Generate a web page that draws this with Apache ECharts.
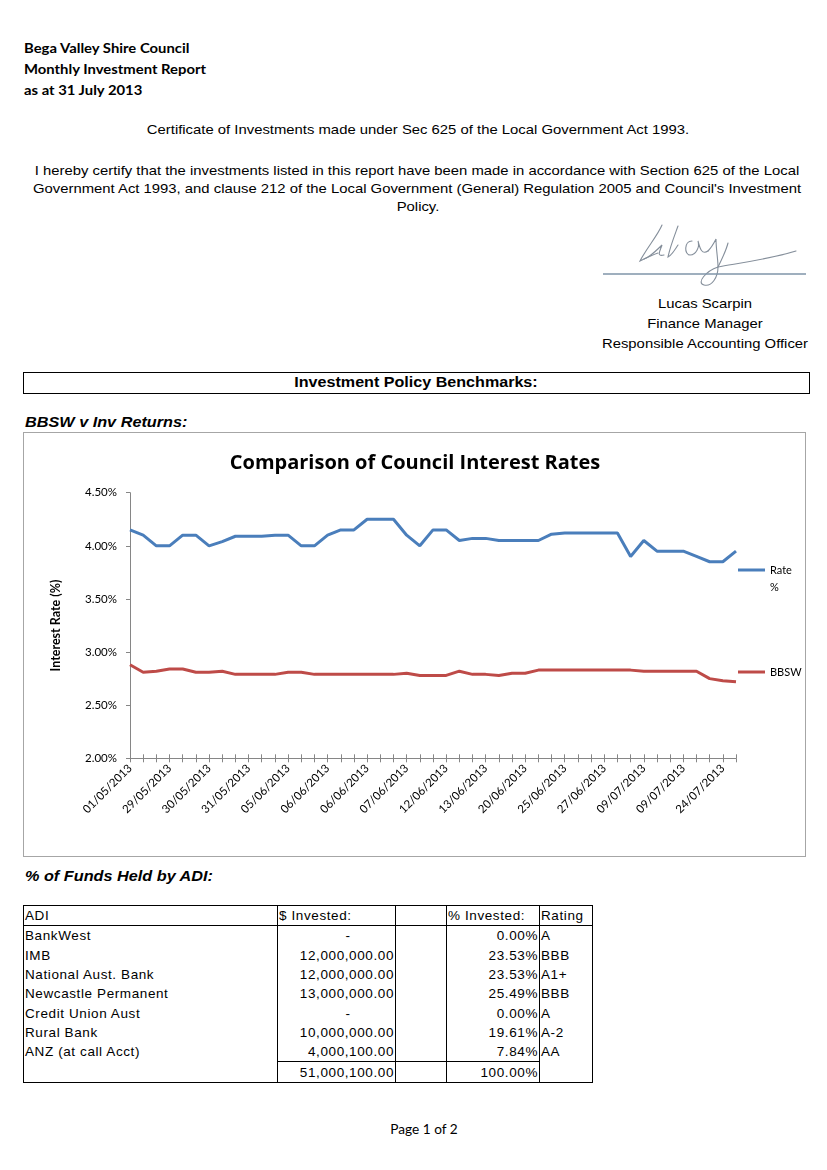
<!DOCTYPE html>
<html>
<head>
<meta charset="utf-8">
<script src="https://cdn.jsdelivr.net/npm/echarts@6/dist/echarts.min.js"></script>
<style>
  html, body { margin: 0; padding: 0; background: #fff; }
  body { width: 827px; height: 1170px; position: relative; overflow: hidden; font-family: "Liberation Sans", Arial, sans-serif; color: #000; }
  .abs { position: absolute; white-space: nowrap; }
  .cal { font-family: Lato, "Open Sans", sans-serif; }
  .hdr { font-weight: bold; font-size: 14px; left: 24px; transform: translateY(-50%) scaleX(1.06); transform-origin: left center; }
  .ctr { transform: translate(-50%, -50%) scaleX(1.1); font-size: 13.5px; }
  .sub { font-weight: bold; font-style: italic; font-size: 14px; left: 25px; transform: translateY(-50%) scaleX(1.16); transform-origin: left center; }
  #chart { position: absolute; left: 23px; top: 432px; width: 784px; height: 426px; }
  #frame { position: absolute; left: 23px; top: 432px; width: 781px; height: 423px; border: 1.5px solid #a6a6a6; pointer-events: none; }
  #box { position: absolute; left: 23px; top: 372px; width: 785px; height: 20px; border: 1.5px solid #000; }
  table { position: absolute; left: 23px; top: 905px; border-collapse: collapse; font-size: 13.5px; letter-spacing: 0.6px; font-family: "Liberation Sans", Arial, sans-serif; border: 1.5px solid #000; }
  td { padding: 0 1px; height: 19.3px; line-height: 19px; border-left: 1px solid #000; border-right: 1px solid #000; white-space: nowrap; }
  tr.head td { border-bottom: 1px solid #000; }
  tr.total td.top { border-top: 1px solid #000; }
  td.r { text-align: right; }
</style>
</head>
<body>
<div class="abs cal hdr" style="top:47px">Bega Valley Shire Council</div>
<div class="abs cal hdr" style="top:68px">Monthly Investment Report</div>
<div class="abs cal hdr" style="top:89px">as at 31 July 2013</div>

<div class="abs ctr" style="left:418px; top:129px">Certificate of Investments made under Sec 625 of the Local Government Act 1993.</div>
<div class="abs ctr" style="left:417px; top:170px">I hereby certify that the investments listed in this report have been made in accordance with Section 625 of the Local</div>
<div class="abs ctr" style="left:417px; top:188px">Government Act 1993, and clause 212 of the Local Government (General) Regulation 2005 and Council's Investment</div>
<div class="abs ctr" style="left:418px; top:206px">Policy.</div>

<svg class="abs" style="left:600px; top:215px" width="215" height="90">
  <g fill="none" stroke="#858f9b" stroke-width="1.1" stroke-linecap="round">
    <path d="M62 10 C58 20 46 34 40 46 C44 44 52 40 58 38"/>
    <path d="M44 44 C50 42 56 36 62 30 C60 36 56 42 64 40"/>
    <path d="M78 11 C74 22 70 32 68 42 C72 40 74 36 78 30"/>
    <path d="M92 26 C84 26 84 40 90 40 C96 40 100 32 98 26 C100 34 102 40 108 36"/>
    <path d="M108 36 C112 32 114 28 116 24 C116 34 118 44 118 52 C118 62 112 72 104 70 C96 68 106 56 118 52 C140 48 170 44 196 36"/>
    <path d="M128 28 C126 36 122 44 118 52"/>
  </g>
  <line x1="3" y1="59" x2="206" y2="59" stroke="#7f95a8" stroke-width="1.5"/>
</svg>

<div class="abs ctr" style="left:705px; top:303px">Lucas Scarpin</div>
<div class="abs ctr" style="left:705px; top:323px">Finance Manager</div>
<div class="abs ctr" style="left:705px; top:343px">Responsible Accounting Officer</div>

<div id="box"></div>
<div class="abs" style="left:416px; top:382px; font-weight:bold; font-size:14px; transform: translate(-50%, -50%) scaleX(1.15);">Investment Policy Benchmarks:</div>

<div class="abs sub" style="top:422px">BBSW v Inv Returns:</div>

<div id="chart"></div>
<div id="frame"></div>

<div class="abs sub" style="top:876px">% of Funds Held by ADI:</div>

<table id="tbl"></table>

<div class="abs cal" style="left:424px; top:1129px; font-size:13px; transform: translate(-50%, -50%) scaleX(1.05);">Page 1 of 2</div>

<script>
// ---- chart data ----
var dates = [
  "01/05/2013","06/05/2013","20/05/2013","29/05/2013","29/05/2013","30/05/2013","30/05/2013","30/05/2013",
  "31/05/2013","31/05/2013","03/06/2013","04/06/2013","05/06/2013","05/06/2013","06/06/2013","06/06/2013",
  "06/06/2013","06/06/2013","06/06/2013","07/06/2013","07/06/2013","07/06/2013","11/06/2013","12/06/2013",
  "12/06/2013","12/06/2013","13/06/2013","13/06/2013","17/06/2013","19/06/2013","20/06/2013","21/06/2013",
  "24/06/2013","25/06/2013","26/06/2013","27/06/2013","27/06/2013","02/07/2013","05/07/2013","09/07/2013",
  "09/07/2013","09/07/2013","09/07/2013","15/07/2013","19/07/2013","24/07/2013","31/07/2013"
];
var rateValues = [
  4.15, 4.10, 4.00, 4.00, 4.10, 4.10, 4.00, 4.04, 4.09, 4.09, 4.09, 4.10, 4.10, 4.00, 4.00, 4.10,
  4.15, 4.15, 4.25, 4.25, 4.25, 4.10, 4.00, 4.15, 4.15, 4.05, 4.07, 4.07, 4.05, 4.05, 4.05, 4.05,
  4.11, 4.12, 4.12, 4.12, 4.12, 4.12, 3.90, 4.05, 3.95, 3.95, 3.95, 3.90, 3.85, 3.85, 3.95
];
var bbswValues = [
  2.88, 2.81, 2.82, 2.84, 2.84, 2.81, 2.81, 2.82, 2.79, 2.79, 2.79, 2.79, 2.81, 2.81, 2.79, 2.79,
  2.79, 2.79, 2.79, 2.79, 2.79, 2.80, 2.78, 2.78, 2.78, 2.82, 2.79, 2.79, 2.78, 2.80, 2.80, 2.83,
  2.83, 2.83, 2.83, 2.83, 2.83, 2.83, 2.83, 2.82, 2.82, 2.82, 2.82, 2.82, 2.75, 2.73, 2.72
];
var seriesNames = ["Rate %", "BBSW"];
var yTicks = [2.0, 2.5, 3.0, 3.5, 4.0, 4.5];

// ---- table data ----
var adiNames = ["BankWest","IMB","National Aust. Bank","Newcastle Permanent","Credit Union Aust","Rural Bank","ANZ (at call Acct)"];
var adiInvested = ["-","12,000,000.00","12,000,000.00","13,000,000.00","-","10,000,000.00","4,000,100.00"];
var adiPercent = ["0.00%","23.53%","23.53%","25.49%","0.00%","19.61%","7.84%"];
var adiRating = ["A","BBB","A1+","BBB","A","A-2","AA"];
var totalInvested = "51,000,100.00";
var totalPercent = "100.00%";

// build table
(function(){
  var w = [254, 118, 51, 93, 53];
  var h = '<colgroup>' + w.map(function(x){return '<col style="width:'+x+'px">';}).join('') + '</colgroup>';
  h += '<tr class="head"><td>ADI</td><td>$ Invested:</td><td></td><td>% Invested:</td><td>Rating</td></tr>';
  for (var i = 0; i < adiNames.length; i++) {
    var inv = adiInvested[i] === '-' ? '-&nbsp;&nbsp;&nbsp;&nbsp;&nbsp;&nbsp;&nbsp;&nbsp;&nbsp;&nbsp;' : adiInvested[i];
    h += '<tr><td>' + adiNames[i] + '</td><td class="r">' + inv + '</td><td></td><td class="r">' + adiPercent[i] + '</td><td>' + adiRating[i] + '</td></tr>';
  }
  h += '<tr class="total"><td></td><td class="r top">' + totalInvested + '</td><td class="top"></td><td class="r top">' + totalPercent + '</td><td></td></tr>';
  document.getElementById('tbl').innerHTML = h;
})();

var chart = echarts.init(document.getElementById('chart'), null, { renderer: 'canvas' });
var FONT = 'Lato, "Open Sans", sans-serif';
var axisGray = '#868686';
var xBase = {
  type: 'category',
  data: dates,
  boundaryGap: false,
  position: 'bottom'
};
chart.setOption({
  animation: false,
  backgroundColor: '#fff',
  textStyle: { fontFamily: FONT },
  title: {
    text: 'Comparison of Council Interest Rates',
    left: 'center',
    top: 16,
    textStyle: { fontSize: 20, fontWeight: 'bold', color: '#000', fontFamily: '"Open Sans", Lato, sans-serif' }
  },
  legend: [
    {
      data: [seriesNames[0]],
      orient: 'vertical',
      left: 715,
      top: 112.5,
      padding: 0,
      icon: 'rect',
      itemWidth: 27,
      itemHeight: 3,
      formatter: function (n) { return '\u00a0\nRate\n%'; },
      textStyle: { fontSize: 11, color: '#000', fontFamily: FONT, lineHeight: 17 }
    },
    {
      data: [seriesNames[1]],
      orient: 'vertical',
      left: 715,
      top: 231.5,
      padding: 0,
      icon: 'rect',
      itemWidth: 27,
      itemHeight: 3,
      textStyle: { fontSize: 11, color: '#000', fontFamily: FONT, lineHeight: 17 }
    }
  ],
  grid: { left: 107, top: 60.7, width: 606, height: 265.6 },
  xAxis: [
    Object.assign({}, xBase, {
      axisLine: { show: true, lineStyle: { color: axisGray, width: 1 } },
      axisTick: { show: true, interval: 0, length: 4, inside: false, lineStyle: { color: axisGray } },
      axisLabel: { interval: 2, rotate: 45, fontSize: 11.5, color: '#000', margin: 8, fontFamily: FONT },
      splitLine: { show: false }
    }),
    Object.assign({}, xBase, {
      axisLine: { show: false },
      axisTick: { show: true, interval: 0, length: 4, inside: true, lineStyle: { color: axisGray } },
      axisLabel: { show: false },
      splitLine: { show: false }
    })
  ],
  yAxis: {
    type: 'value',
    min: yTicks[0],
    max: yTicks[yTicks.length - 1],
    interval: 0.5,
    name: 'Interest Rate (%)',
    nameLocation: 'middle',
    nameGap: 68,
    nameRotate: 90,
    nameTextStyle: { fontSize: 12.5, fontWeight: 'bold', color: '#000', fontFamily: FONT },
    axisLine: { show: true, lineStyle: { color: axisGray, width: 1 } },
    axisTick: { show: true, length: 4, lineStyle: { color: axisGray } },
    axisLabel: { fontSize: 11.5, color: '#000', margin: 13, fontFamily: FONT, formatter: function (v) { return v.toFixed(2) + '%'; } },
    splitLine: { show: false }
  },
  series: [
    {
      name: seriesNames[0], type: 'line', data: rateValues, symbol: 'none', showSymbol: false,
      lineStyle: { color: '#4A7EBB', width: 3 }, itemStyle: { color: '#4A7EBB' }
    },
    {
      name: seriesNames[1], type: 'line', data: bbswValues, symbol: 'none', showSymbol: false,
      lineStyle: { color: '#BE4B48', width: 3 }, itemStyle: { color: '#BE4B48' }
    }
  ]
});
</script>
</body>
</html>
